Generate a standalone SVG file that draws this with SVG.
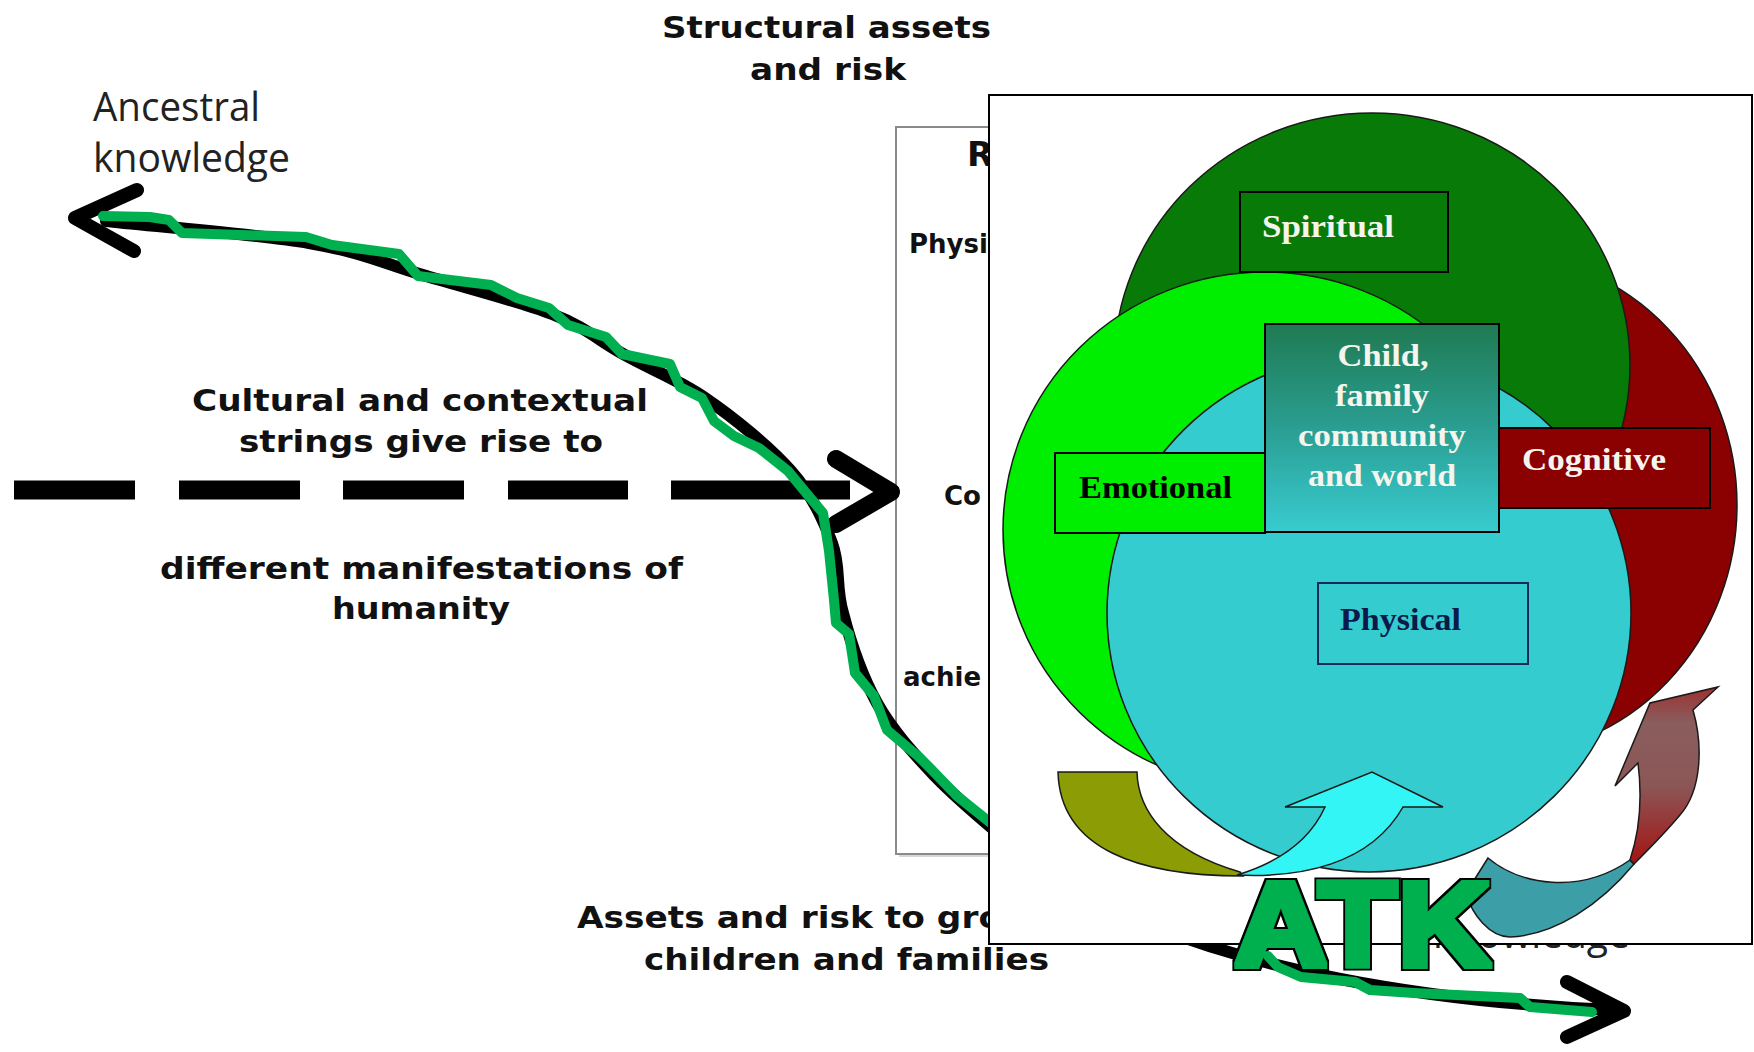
<svg xmlns="http://www.w3.org/2000/svg" width="1754" height="1052" viewBox="0 0 1754 1052">
<defs>
<style>
.lbl{font-family:"DejaVu Sans",Verdana,sans-serif;font-weight:bold;font-size:30px;fill:#111}
.rb{font-family:"DejaVu Sans",Verdana,sans-serif;font-weight:bold;font-size:26px;fill:#111}
.reg{font-family:"Open Sans","DejaVu Sans",sans-serif;font-size:40px;fill:#222}
.bt{font-family:"Liberation Serif","Times New Roman",serif;font-weight:bold;font-size:32px}
.ol{stroke:#1a1a1a;stroke-width:1.5}
.bx{stroke:#000;stroke-width:2}
.blk{fill:none;stroke:#000;stroke-linecap:round;stroke-linejoin:round}
.grn{fill:none;stroke:#00b050;stroke-width:10;stroke-linecap:round;stroke-linejoin:round}
.atk{font-family:"Liberation Sans",Arial,sans-serif;font-weight:bold;font-size:120px}
</style>
<linearGradient id="childGrad" x1="0" y1="0" x2="0" y2="1">
<stop offset="0" stop-color="#1f7a52"/>
<stop offset="0.5" stop-color="#2a9e92"/>
<stop offset="1" stop-color="#38cbd0"/>
</linearGradient>
<linearGradient id="redArrow" gradientUnits="userSpaceOnUse" x1="0" y1="866" x2="0" y2="688">
<stop offset="0" stop-color="#a51212"/>
<stop offset="0.45" stop-color="#8c5656"/>
<stop offset="0.8" stop-color="#8a5e5e"/>
<stop offset="1" stop-color="#9c3232"/>
</linearGradient>
<filter id="heavy" x="-10%" y="-10%" width="120%" height="120%">
<feMorphology in="SourceAlpha" operator="dilate" radius="5" result="outer"/>
<feFlood flood-color="#000"/>
<feComposite in2="outer" operator="in" result="outline"/>
<feMorphology in="SourceAlpha" operator="dilate" radius="2.5" result="inner"/>
<feFlood flood-color="#00b050"/>
<feComposite in2="inner" operator="in" result="body"/>
<feMerge><feMergeNode in="outline"/><feMergeNode in="body"/></feMerge>
</filter>
</defs>
<rect x="0" y="0" width="1754" height="1052" fill="#fff"/>

<g id="labels">
<text class="lbl" x="662" y="38" textLength="329" lengthAdjust="spacingAndGlyphs">Structural assets</text>
<text class="lbl" x="750" y="80" textLength="156" lengthAdjust="spacingAndGlyphs">and risk</text>
<text class="reg" x="93" y="121" textLength="167" lengthAdjust="spacingAndGlyphs">Ancestral</text>
<text class="reg" x="93" y="172" textLength="197" lengthAdjust="spacingAndGlyphs">knowledge</text>
<text class="lbl" x="192" y="411" textLength="456" lengthAdjust="spacingAndGlyphs">Cultural and contextual</text>
<text class="lbl" x="239" y="452" textLength="364" lengthAdjust="spacingAndGlyphs">strings give rise to</text>
<text class="lbl" x="160" y="579" textLength="523" lengthAdjust="spacingAndGlyphs">different manifestations of</text>
<text class="lbl" x="332" y="619" textLength="178" lengthAdjust="spacingAndGlyphs">humanity</text>
<text class="lbl" x="577" y="928" textLength="425" lengthAdjust="spacingAndGlyphs">Assets and risk to gro</text>
<text class="lbl" x="644" y="970" textLength="405" lengthAdjust="spacingAndGlyphs">children and families</text>
<text class="reg" x="1433" y="948" textLength="197" lengthAdjust="spacingAndGlyphs">knowledge</text>
</g>

<g id="risk-box">
<rect x="899" y="130" width="300" height="727" fill="#d8d8d8"/>
<rect x="896" y="127" width="300" height="727" fill="#fff" stroke="#8a8a8a" stroke-width="2"/>
<text x="967" y="166" font-family="DejaVu Sans, Verdana, sans-serif" font-weight="bold" font-size="34" fill="#111">R</text>
<text class="rb" x="909" y="253">Physi</text>
<text class="rb" x="944" y="505">Co</text>
<text class="rb" x="903" y="686">achie</text>
</g>

<g id="connectors">
<path class="blk" stroke-width="12" transform="translate(3,3)" d="M103,218 C137,222 253,231 306,240 C359,249 380,260 420,272 C460,284 515,298 549,311 C583,324 596,338 622,352 C647,366 674,376 702,395 C730,414 767,444 788,468 C809,492 820,516 829,540 C838,564 832,583 840,610 C847,637 859,673 874,700 C889,727 911,751 931,772 C951,793 982,819 995,830"/>
<polyline class="blk" stroke-width="14" points="137,190 75,218 134,251"/>
<path fill="none" stroke="#000" stroke-width="19" d="M14,490H135 M179,490H300 M343,490H464 M508,490H628 M671,490H850"/>
<polyline class="blk" stroke-width="18" points="836,459 891,492 836,524"/>
<polyline class="grn" points="103,216 150,217 169,220 182,233 306,237 332,245 399,254 418,276 491,285 517,298 549,308 568,325 606,337 622,354 670,364 680,387 702,398 714,421 734,436 759,448 788,471 807,494 823,513 829,551 834,600 836,623 849,634 855,673 874,696 887,730 919,757 931,769 957,796 992,824"/>
<path class="blk" stroke-width="12" d="M1150,925 C1250,965 1400,1000 1612,1010"/>
<polyline class="blk" stroke-width="14" points="1567,982 1624,1011 1567,1037"/>
</g>

<g id="inset">
<rect x="989" y="95" width="763" height="849" fill="#fff" stroke="#000" stroke-width="2"/>
<g id="spheres">
<ellipse id="cognitive-sphere" cx="1500" cy="505" rx="237" ry="250" fill="#8b0000" class="ol"/>
<ellipse id="spiritual-sphere" cx="1372" cy="365" rx="258" ry="252" fill="#087a08" class="ol"/>
<ellipse id="emotional-sphere" cx="1265" cy="530" rx="262" ry="258" fill="#00ee00" class="ol"/>
<ellipse id="physical-sphere" cx="1369" cy="613" rx="262" ry="259" fill="#35ccd0" class="ol"/>
</g>
<g id="spiritual">
<rect x="1240" y="192" width="208" height="80" fill="#087a08" class="bx"/>
<text class="bt" x="1262" y="237" fill="#f5f5ee" textLength="132" lengthAdjust="spacingAndGlyphs">Spiritual</text>
</g>
<g id="child">
<rect x="1265" y="324" width="234" height="208" fill="url(#childGrad)" class="bx"/>
<text class="bt" x="1383" y="366" fill="#f5f5ee" text-anchor="middle" textLength="91" lengthAdjust="spacingAndGlyphs">Child,</text>
<text class="bt" x="1382" y="406" fill="#f5f5ee" text-anchor="middle" textLength="94" lengthAdjust="spacingAndGlyphs">family</text>
<text class="bt" x="1382" y="446" fill="#f5f5ee" text-anchor="middle" textLength="168" lengthAdjust="spacingAndGlyphs">community</text>
<text class="bt" x="1382" y="486" fill="#f5f5ee" text-anchor="middle" textLength="148" lengthAdjust="spacingAndGlyphs">and world</text>
</g>
<g id="emotional">
<rect x="1055" y="453" width="210" height="80" fill="#00ee00" class="bx"/>
<text class="bt" x="1079" y="498" fill="#000" textLength="153" lengthAdjust="spacingAndGlyphs">Emotional</text>
</g>
<g id="cognitive">
<rect x="1499" y="428" width="211" height="80" fill="#8b0000" class="bx"/>
<text class="bt" x="1522" y="470" fill="#f5f5ee" textLength="144" lengthAdjust="spacingAndGlyphs">Cognitive</text>
</g>
<g id="physical">
<rect x="1318" y="583" width="210" height="81" fill="#35ccd0" stroke="#1a2a5a" stroke-width="2"/>
<text class="bt" x="1340" y="630" fill="#0a1a4a" textLength="121" lengthAdjust="spacingAndGlyphs">Physical</text>
</g>
<g id="cycle-arrows">
<path d="M1058,772 L1137,772 C1138,810 1165,850 1240,872 L1243,876 C1140,876 1060,850 1058,772 Z" fill="#8c9c04" class="ol"/>
<path d="M1237,875 C1300,878 1370,865 1403,807 L1443,807 L1372,772 L1285,807 L1325,807 C1310,840 1280,862 1237,875 Z" fill="#33f5f5" class="ol"/>
<path d="M1466,893 L1488,858 C1520,885 1580,895 1630,860 L1634,864 C1600,905 1555,935 1510,937 C1490,937 1472,915 1466,893 Z" fill="#3c9fa8" class="ol"/>
<path d="M1630,860 C1640,830 1642,795 1638,763 L1615,786 L1650,703 L1718,687 L1693,710 C1703,745 1702,790 1680,815 C1665,833 1650,848 1634,864 Z" fill="url(#redArrow)" class="ol"/>
</g>
</g>

<g id="atk">
<text class="atk" x="1234" y="966" textLength="257" lengthAdjust="spacingAndGlyphs" fill="#00b050" filter="url(#heavy)">ATK</text>
</g>

<g id="connectors-bottom">
<polyline class="grn" points="1268,956 1278,967 1301,977 1355,982 1370,990 1414,993 1520,998 1530,1007 1592,1012"/>
</g>
</svg>
